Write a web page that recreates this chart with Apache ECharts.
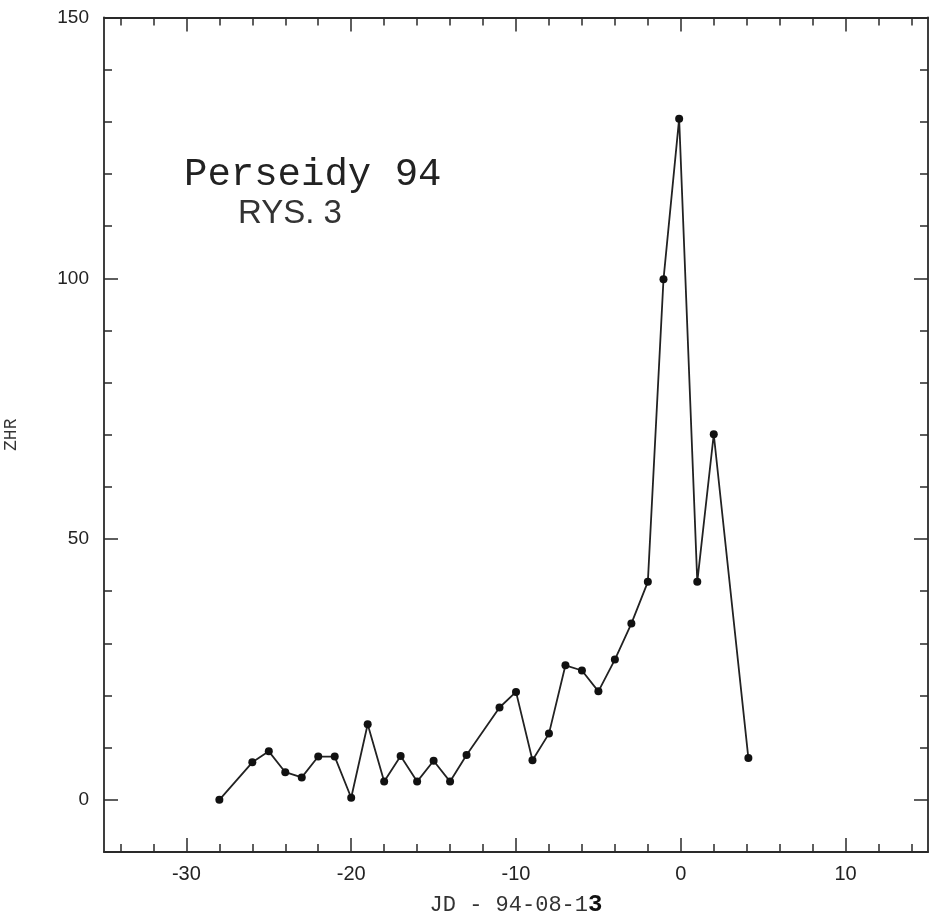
<!DOCTYPE html>
<html>
<head>
<meta charset="utf-8">
<script src="https://cdn.jsdelivr.net/npm/echarts@6/dist/echarts.min.js"></script>
<style>
html,body{margin:0;padding:0;background:#fff;}
#c{width:930px;height:914px;}
</style>
</head>
<body>
<div id="c"></div>
<script>
// Data
var xDays = [-28, -26, -25, -24, -23, -22, -21, -20, -19, -18, -17, -16, -15, -14, -13, -11, -10, -9, -8, -7, -6, -5, -4, -3, -2, -1.05, -0.1, 1, 2, 4.1];
var zhr   = [0, 7.2, 9.3, 5.3, 4.3, 8.3, 8.3, 0.4, 14.5, 3.5, 8.4, 3.5, 7.5, 3.5, 8.6, 17.7, 20.7, 7.6, 12.7, 25.8, 24.8, 20.8, 26.9, 33.8, 41.8, 99.8, 130.6, 41.8, 70.1, 8.0];
var xMajorTicks = [-30, -20, -10, 0, 10];
var xMinorTicks = [-34, -32, -28, -26, -24, -22, -18, -16, -14, -12, -8, -6, -4, -2, 2, 4, 6, 8, 12, 14];
var yMajorTicks = [0, 50, 100, 150];
var yMinorTicks = [10, 20, 30, 40, 60, 70, 80, 90, 110, 120, 130, 140];

var points = xDays.map(function (x, i) { return [x, zhr[i]]; });

var axisCol = '#2a2a2a';
var lineSt = {color: axisCol, width: 1.8};

function xAx(pos, ticks, len, showLine, showLabel, extra) {
  var o = {
    type: 'value', min: -35, max: 15, position: pos,
    axisLine: {show: showLine, onZero: false, lineStyle: lineSt},
    axisTick: {show: true, inside: true, length: len, customValues: ticks, lineStyle: {color: axisCol, width: 1.5}},
    axisLabel: {show: showLabel, customValues: ticks, fontFamily: 'Liberation Sans', fontSize: 20, color: '#222', margin: 12},
    splitLine: {show: false}
  };
  for (var k in extra) o[k] = extra[k];
  return o;
}
function yAx(pos, ticks, len, showLine, showLabel, extra) {
  var o = {
    type: 'value', min: -10, max: 150, position: pos,
    axisLine: {show: showLine, onZero: false, lineStyle: lineSt},
    axisTick: {show: true, inside: true, length: len, customValues: ticks, lineStyle: {color: axisCol, width: 1.5}},
    axisLabel: {show: showLabel, customValues: ticks, fontFamily: 'Liberation Sans', fontSize: 19, color: '#222', margin: 15},
    splitLine: {show: false}
  };
  for (var k in extra) o[k] = extra[k];
  return o;
}

var chart = echarts.init(document.getElementById('c'), null, {renderer: 'canvas'});
chart.setOption({
  animation: false,
  backgroundColor: '#fff',
  grid: {left: 104, right: 2, top: 17.5, bottom: 62, containLabel: false, outerBoundsMode: 'none'},
  xAxis: [
    xAx('bottom', xMajorTicks, 14, true, true, {
      name: 'JD - 94-08-1{b|3}', nameLocation: 'middle', nameGap: 41,
      nameTextStyle: {fontFamily: 'Liberation Mono', fontSize: 22, color: '#333',
        rich: {b: {fontFamily: 'Liberation Mono', fontSize: 24, fontWeight: 'bold', color: '#111'}}}
    }),
    xAx('bottom', xMinorTicks, 8, false, false, {}),
    xAx('top', xMajorTicks, 14, true, false, {}),
    xAx('top', xMinorTicks, 8, false, false, {})
  ],
  yAxis: [
    yAx('left', yMajorTicks, 14, true, true, {
      name: 'ZHR', nameLocation: 'middle', nameGap: 84,
      nameTextStyle: {fontFamily: 'Liberation Mono', fontSize: 18, color: '#333'}
    }),
    yAx('left', yMinorTicks, 8, false, false, {}),
    yAx('right', yMajorTicks, 14, true, false, {}),
    yAx('right', yMinorTicks, 8, false, false, {})
  ],
  graphic: [
    {type: 'text', left: 184, top: 155, style: {text: 'Perseidy 94', fontFamily: 'Liberation Mono', fontSize: 39, fill: '#222'}},
    {type: 'text', left: 238, top: 197, style: {text: 'RYS. 3', fontFamily: 'Liberation Sans', fontSize: 33, fill: '#333'}}
  ],
  series: [{
    type: 'line', xAxisIndex: 0, yAxisIndex: 0,
    data: points,
    symbol: 'circle', symbolSize: 8,
    itemStyle: {color: '#111'},
    lineStyle: {color: '#222', width: 1.8},
    silent: true
  }]
});
</script>
</body>
</html>
